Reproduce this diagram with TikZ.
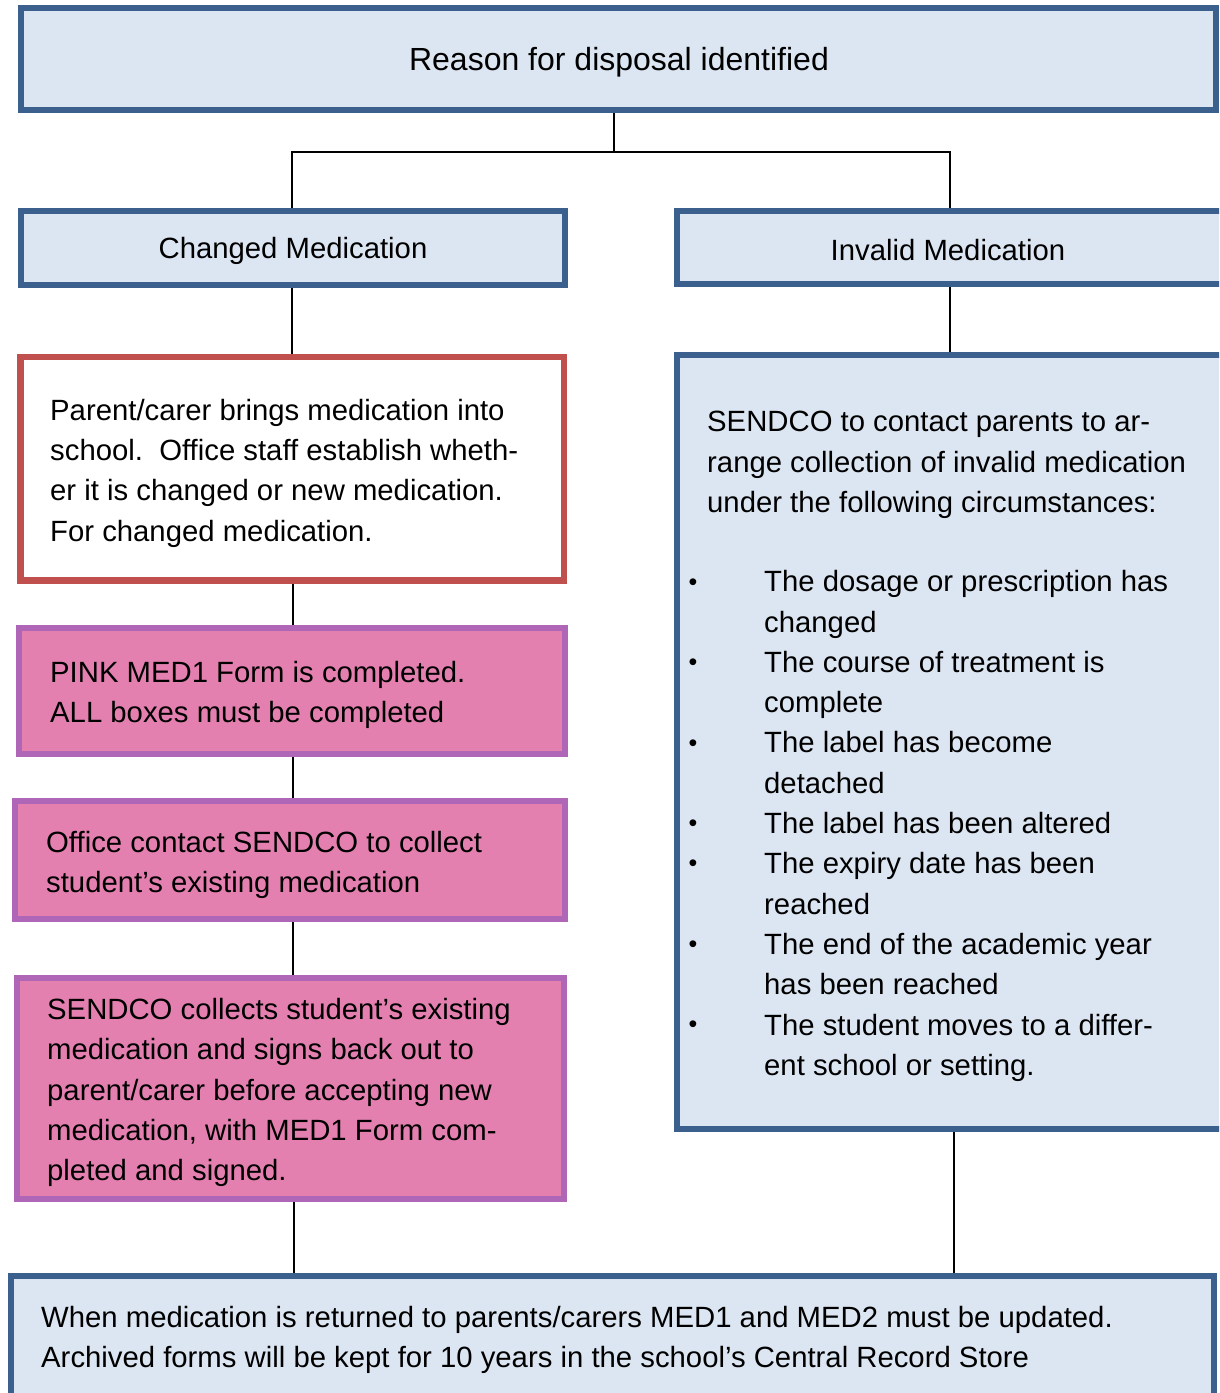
\documentclass[tikz,border=0pt]{standalone}
\usepackage{fontspec}
\setmainfont{Liberation Sans}
\definecolor{bborder}{RGB}{59,96,141}
\definecolor{bfill}{RGB}{220,230,242}
\definecolor{rborder}{RGB}{192,80,77}
\definecolor{pfill}{RGB}{228,128,176}
\definecolor{pborder}{RGB}{176,102,182}
\tikzset{
  boxbase/.style={rectangle, inner sep=0pt, line width=6.5pt},
  bluebox/.style={boxbase, draw=bborder, fill=bfill},
  redbox/.style={boxbase, draw=rborder, fill=white},
  pinkbox/.style={boxbase, draw=pborder, fill=pfill},
  txt/.style={inner sep=0pt, align=left, anchor=west, font=\fontsize{29.3}{40.3}\selectfont},
  ctxt/.style={inner sep=0pt, align=center, font=\fontsize{29.3}{40}\selectfont},
  bul/.style={inner sep=0pt, font=\fontsize{25}{28}\selectfont},
  conn/.style={line width=1.8pt, draw=black}
}
\begin{document}
\begin{tikzpicture}[x=1pt,y=-1pt]
\useasboundingbox (0,0) rectangle (1219,1393);
\clip (0,0) rectangle (1219,1393);
% boxes
\node[bluebox, minimum width=1195, minimum height=102] (top) at (618.5,59) {};
\node[bluebox, minimum width=544, minimum height=74] (chg) at (293,248) {};
\node[bluebox, minimum width=548, minimum height=73] (inv) at (951,247.5) {};
\node[redbox, minimum width=543.5, minimum height=223.5] (red) at (292.25,468.75) {};
\node[pinkbox, minimum width=546, minimum height=126] (p1) at (292,691) {};
\node[pinkbox, minimum width=550, minimum height=118] (p2) at (290,860) {};
\node[pinkbox, minimum width=547, minimum height=221] (p3) at (290.5,1088.5) {};
\node[bluebox, minimum width=548, minimum height=774] (sendco) at (951,742) {};
\node[bluebox, minimum width=1203, minimum height=124] (bot) at (612.5,1338) {};
% texts
\node[ctxt, font=\fontsize{32}{40}\selectfont] (ttop) at (619,62) {Reason for disposal identified};
\node[ctxt] (tchg) at (293,251) {Changed Medication};
\node[ctxt] (tinv) at (948,250) {Invalid Medication};
\node[txt] (tred) at (50,473) {Parent/carer brings medication into\\school.\ \ Office staff establish wheth-\\er it is changed or new medication.\\For changed medication.};
\node[txt] (tp1) at (50,695) {PINK MED1 Form is completed.\\ALL boxes must be completed};
\node[txt] (tp2) at (46,865) {Office contact SENDCO to collect\\student’s existing medication};
\node[txt] (tp3) at (47,1092.5) {SENDCO collects student’s existing\\medication and signs back out to\\parent/carer before accepting new\\medication, with MED1 Form com-\\pleted and signed.};
\node[txt] (ts1) at (707,465) {SENDCO to contact parents to ar-\\range collection of invalid medication\\under the following circumstances:};
\node[txt] (ts2) at (764,826) {The dosage or prescription has\\changed\\The course of treatment is\\complete\\The label has become\\detached\\The label has been altered\\The expiry date has been\\reached\\The end of the academic year\\has been reached\\The student moves to a differ-\\ent school or setting.};
\foreach \yy [count=\i] in {585,665,746,826,866,947,1027}
  \node[bul] (b\i) at (693,\yy) {\textbullet};
\node[txt] (tbot) at (41,1340) {When medication is returned to parents/carers MED1 and MED2 must be updated.\\Archived forms will be kept for 10 years in the school’s Central Record Store};
% connectors
\coordinate (jt) at (614,152);
\draw[conn] (jt |- top.south) -- (jt);
\draw[conn] (chg.north -| 292,0) |- (jt) -| (inv.north -| 950,0);
\draw[conn] (chg.south -| 292,0) -- (red.north -| 292,0);
\draw[conn] (inv.south -| 950,0) -- (sendco.north -| 950,0);
\draw[conn] (red.south -| 293,0) -- (p1.north -| 293,0);
\draw[conn] (p1.south -| 293,0) -- (p2.north -| 293,0);
\draw[conn] (p2.south -| 293,0) -- (p3.north -| 293,0);
\draw[conn] (p3.south -| 294,0) -- (bot.north -| 294,0);
\draw[conn] (sendco.south -| 954,0) -- (bot.north -| 954,0);
\end{tikzpicture}
\end{document}
